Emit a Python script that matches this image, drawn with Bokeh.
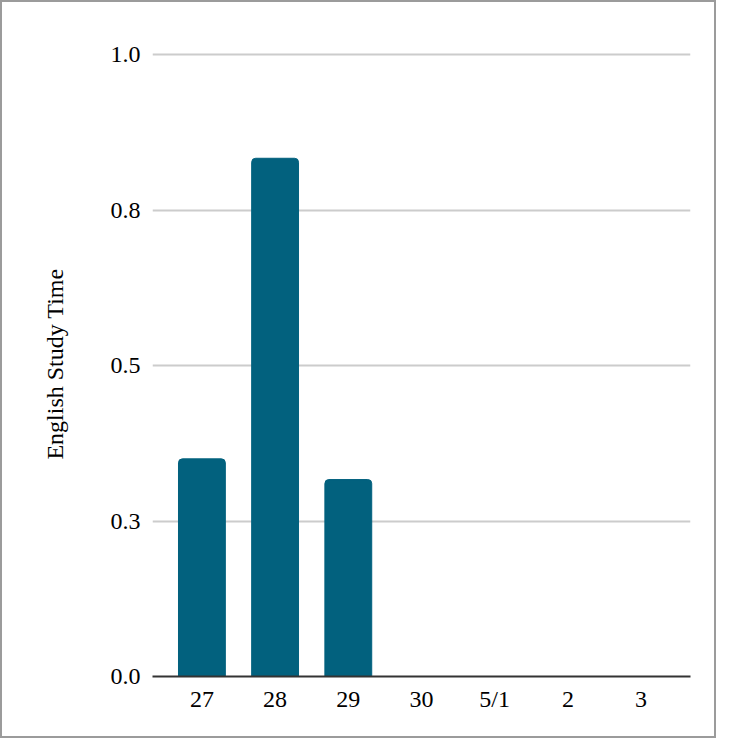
from bokeh.plotting import figure
from bokeh.models import FactorRange, Range1d, FixedTicker, ColumnDataSource
from bokeh.embed import file_html
from bokeh.resources import INLINE

categories = ["27", "28", "29", "30", "5/1", "2", "3"]
study_time = [0.35, 0.8333, 0.3167, 0.0, 0.0, 0.0, 0.0]
y_ticks = [0.0, 0.25, 0.5, 0.75, 1.0]
y_tick_labels = ["0.0", "0.3", "0.5", "0.8", "1.0"]

FONT = "Liberation Serif"

source = ColumnDataSource(data=dict(cat=categories, val=study_time))

p = figure(
    width=716, height=738,
    x_range=FactorRange(factors=categories, range_padding=0.05),
    y_range=Range1d(0, 1.005),
    output_backend="svg", toolbar_location=None,
    min_border_left=150, min_border_right=28, min_border_top=49, min_border_bottom=64,
)
p.styles = {"border": "2px solid #9b9b9b"}
p.outline_line_color = None
p.background_fill_color = "white"
p.border_fill_color = "white"

p.vbar(x="cat", top="val", width=0.64, source=source, color="#02617e",
       border_radius=(4, 4, 0, 0))

# grid
p.xgrid.grid_line_color = None
p.ygrid.grid_line_color = "#cccccc"
p.ygrid.grid_line_width = 2
p.ygrid.ticker = FixedTicker(ticks=y_ticks)

# y axis
p.yaxis.ticker = FixedTicker(ticks=y_ticks)
p.yaxis.major_label_overrides = {t: l for t, l in zip(y_ticks, y_tick_labels)}
p.yaxis.axis_line_color = None
p.yaxis.major_tick_line_color = None
p.yaxis.minor_tick_line_color = None
p.yaxis.major_label_text_font = FONT
p.yaxis.major_label_text_font_size = "24px"
p.yaxis.major_label_text_color = "black"
p.yaxis.major_label_standoff = 6
p.yaxis.axis_label = "English Study Time"
p.yaxis.axis_label_text_font = FONT
p.yaxis.axis_label_text_font_size = "24px"
p.yaxis.axis_label_text_font_style = "normal"
p.yaxis.axis_label_text_color = "black"
p.yaxis.axis_label_standoff = 40

# x axis
p.xaxis.axis_line_color = "#333333"
p.xaxis.axis_line_width = 2
p.xaxis.major_tick_line_color = None
p.xaxis.minor_tick_line_color = None
p.xaxis.major_label_text_font = FONT
p.xaxis.major_label_text_font_size = "24px"
p.xaxis.major_label_text_color = "black"
p.xaxis.major_label_standoff = 3

open("out.html", "w").write(file_html(p, INLINE))
